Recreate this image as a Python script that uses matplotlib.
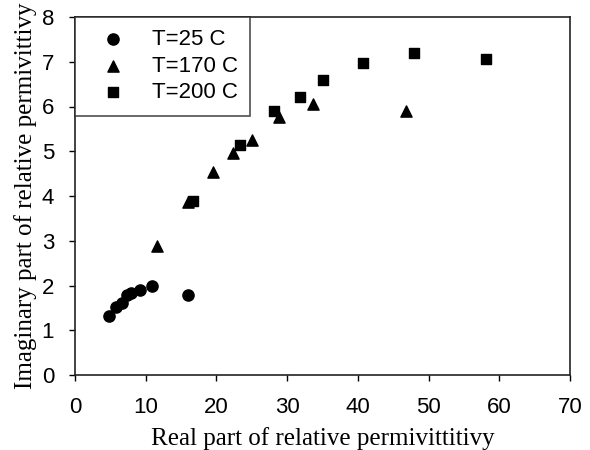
import matplotlib
matplotlib.use("Agg")
import matplotlib.pyplot as plt

# T=25 C
x25 = [4.85, 5.8, 6.6, 7.3, 7.9, 9.2, 10.9, 16.0]
y25 = [1.31, 1.53, 1.62, 1.78, 1.83, 1.89, 1.98, 1.79]
# T=170 C
x170 = [11.65, 16.0, 19.5, 22.3, 25.0, 28.9, 33.6, 46.8]
y170 = [2.89, 3.86, 4.54, 4.96, 5.26, 5.77, 6.05, 5.91]
# T=200 C
x200 = [16.7, 23.3, 28.1, 31.8, 35.0, 40.7, 47.9, 58.1]
y200 = [3.88, 5.15, 5.91, 6.22, 6.60, 6.97, 7.20, 7.06]

labels = ["T=25 C", "T=170 C", "T=200 C"]
xticks = [0, 10, 20, 30, 40, 50, 60, 70]
yticks = [0, 1, 2, 3, 4, 5, 6, 7, 8]

fig = plt.figure(figsize=(5.9, 4.5), dpi=100)
ax = fig.add_axes([75/590, 1 - 375/450, (570-75)/590, (375-17)/450])

ax.scatter(x25, y25, marker='o', s=65, color='black', label=labels[0], zorder=3)
ax.scatter(x170, y170, marker='^', s=65, color='black', label=labels[1], zorder=3)
ax.scatter(x200, y200, marker='s', s=55, color='black', label=labels[2], zorder=3)

ax.set_xlim(0, 70)
ax.set_ylim(0, 8)
ax.set_xticks(xticks)
ax.set_yticks(yticks)
ax.tick_params(direction='out', length=4, width=1, labelsize=16)
ax.tick_params(axis='x', pad=12)
ax.tick_params(axis='y', pad=11)
for lab in ax.get_xticklabels() + ax.get_yticklabels():
    lab.set_family('Liberation Sans')
for sp in ax.spines.values():
    sp.set_linewidth(1.2)
    sp.set_color('#222222')

ax.set_xlabel("Real part of relative permivittitivy", family='Liberation Serif', fontsize=18, labelpad=6)
ax.set_ylabel("Imaginary part of relative permivittivy", family='Liberation Serif', fontsize=18, labelpad=3)

leg = ax.legend(loc='upper left', bbox_to_anchor=(0, 1), frameon=True, fancybox=False,
                edgecolor='#222222', prop={'family': 'Liberation Sans', 'size': 16},
                borderaxespad=0, handletextpad=0.6, borderpad=0.55, labelspacing=0.25,
                handlelength=2.3)
leg.get_frame().set_linewidth(1.2)

fig.savefig("out.png", dpi=100)
